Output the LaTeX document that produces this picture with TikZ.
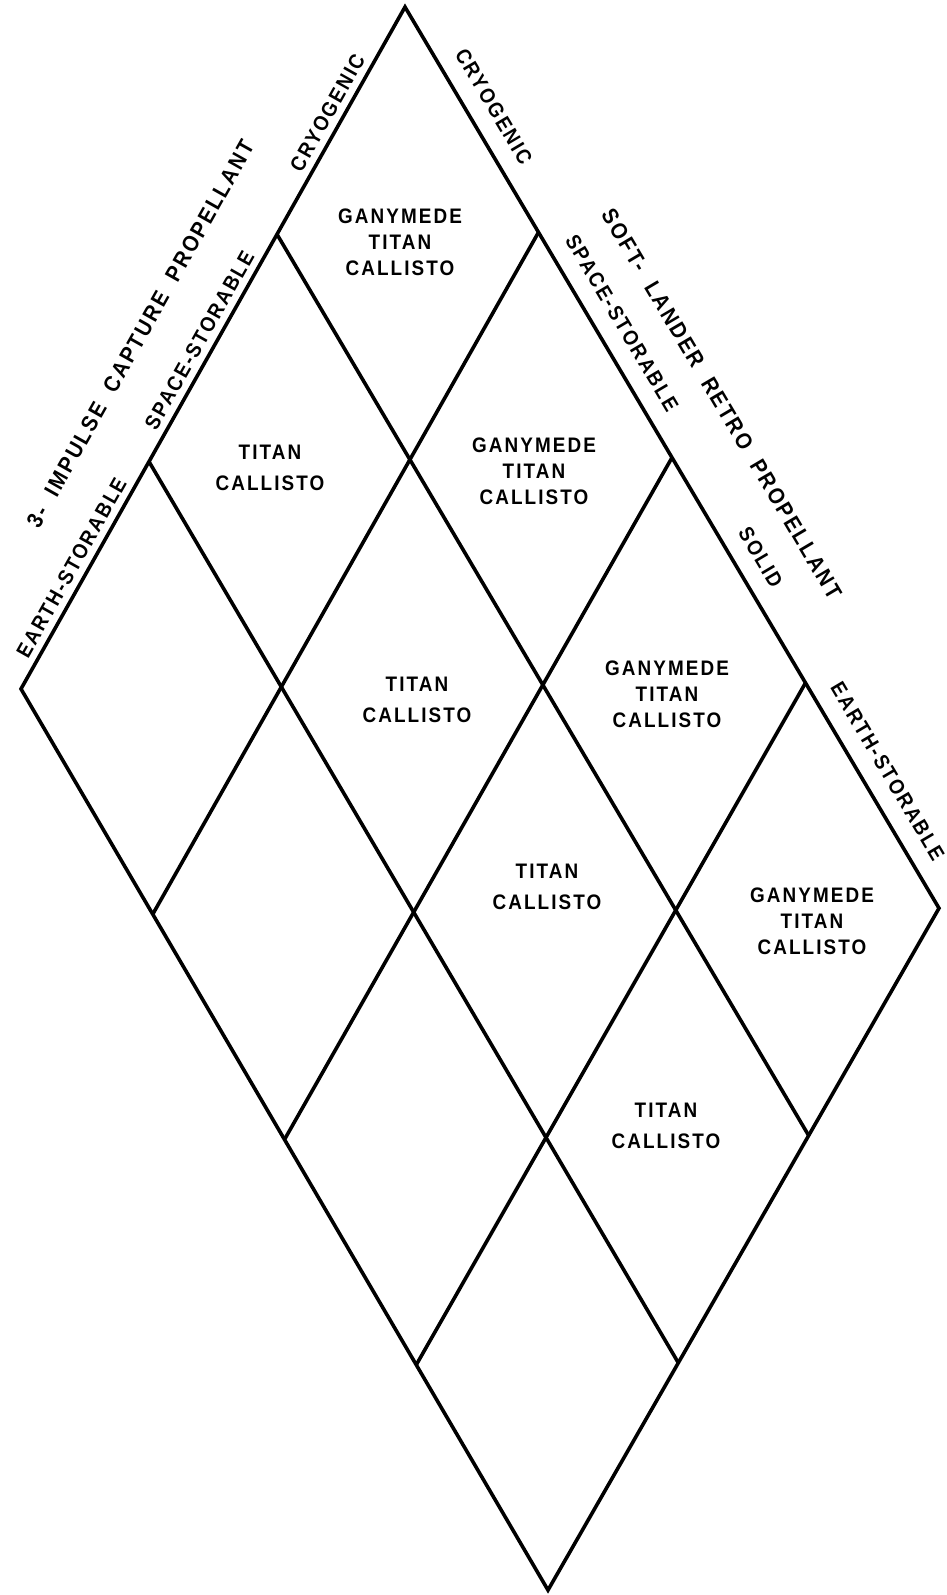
\documentclass[tikz,border=0pt]{standalone}
\usepackage{fontspec}
\setmainfont{Liberation Sans}[LetterSpace=10, FakeStretch=0.9, WordSpace=2]
\usetikzlibrary{calc}

\begin{document}
\begin{tikzpicture}[
    x=1pt, y=-1pt,
    grid/.style={line width=3.6pt},
    cell/.style={align=center, inner sep=0pt, font=\fontsize{21}{26}\selectfont\bfseries},
    celltwo/.style={cell, font=\fontsize{21}{31}\selectfont\bfseries},
    edgelabel/.style={sloped, above=8pt, inner sep=0pt, font=\fontsize{21}{24}\selectfont\bfseries},
    rightlabel/.style={edgelabel, above=10pt},
    outerlabel/.style={edgelabel, above=54pt, font=\fontsize{22.5}{26}\selectfont\bfseries}
]
\useasboundingbox (0,0) rectangle (947,1595);

% corner points of the grid, i = capture propellant, j = lander propellant
\coordinate (top) at (405,7);
\foreach \i in {0,...,3}
  \foreach \j in {0,...,4}
    \coordinate (p-\i-\j) at ($(top) + \i*(-128,227.3) + \j*(133.5,225.3) + {\i*\j/12}*(-7,0)$);

% grid
\draw[grid] (p-0-0) -- (p-0-4) -- (p-3-4) -- (p-3-0) -- cycle;
\foreach \i in {1,2}
  \draw[grid] (p-\i-0) -- (p-\i-4);
\foreach \j in {1,2,3}
  \draw[grid] (p-0-\j) -- (p-3-\j);

% capture propellant labels
\path (p-1-0) -- node[edgelabel] (capcryo) {CRYOGENIC} (p-0-0);
\path (p-2-0) -- node[edgelabel] (capspace) {SPACE-STORABLE} (p-1-0);
\path (p-3-0) -- node[edgelabel] (capearth) {EARTH-STORABLE} (p-2-0);
\path (p-3-0) -- node[outerlabel, pos=0.47] (captitle) {3- IMPULSE CAPTURE PROPELLANT} (p-0-0);

% lander propellant labels
\path (p-0-0) -- node[rightlabel] (landcryo) {CRYOGENIC} (p-0-1);
\path (p-0-1) -- node[rightlabel, pos=0.46] (landspace) {SPACE-STORABLE} (p-0-2);
\path (p-0-2) -- node[rightlabel] (landsolid) {SOLID} (p-0-3);
\path (p-0-3) -- node[rightlabel, pos=0.45] (landearth) {EARTH-STORABLE} (p-0-4);
\path (p-0-0) -- node[outerlabel, pos=0.48] (landtitle) {SOFT- LANDER RETRO PROPELLANT} (p-0-4);

% satellites
\node[cell] (sat-0-0) at (400,242) {GANYMEDE\\TITAN\\CALLISTO};
\node[cell] (sat-0-1) at (534,471) {GANYMEDE\\TITAN\\CALLISTO};
\node[cell] (sat-0-2) at (667,694) {GANYMEDE\\TITAN\\CALLISTO};
\node[cell] (sat-0-3) at (812,921) {GANYMEDE\\TITAN\\CALLISTO};
\node[celltwo] (sat-1-0) at (270,468) {TITAN\\CALLISTO};
\node[celltwo] (sat-1-1) at (417,700) {TITAN\\CALLISTO};
\node[celltwo] (sat-1-2) at (547,887) {TITAN\\CALLISTO};
\node[celltwo] (sat-1-3) at (666,1126) {TITAN\\CALLISTO};
\end{tikzpicture}
\end{document}
